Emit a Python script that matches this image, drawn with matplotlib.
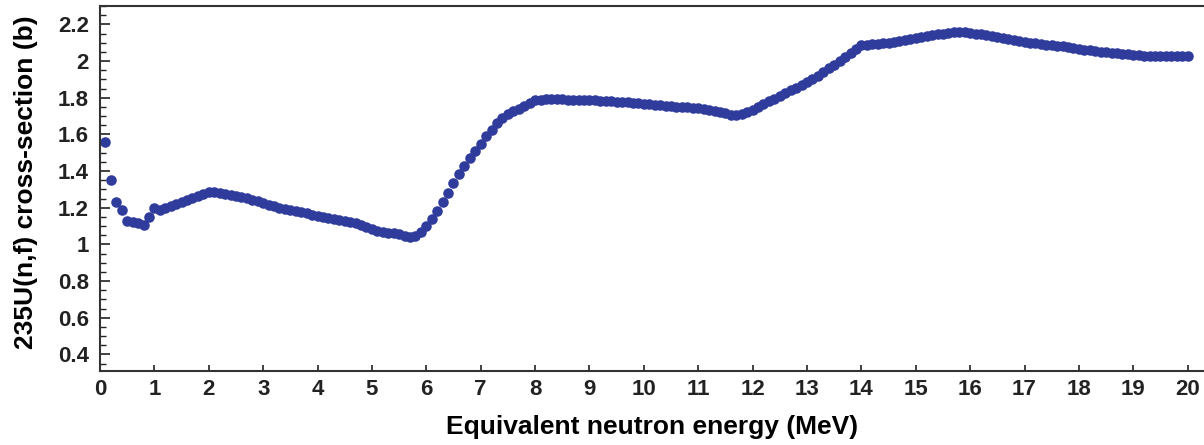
import numpy as np
import matplotlib.pyplot as plt
from matplotlib.ticker import MultipleLocator

# equivalent neutron energy (MeV), 0.1 MeV steps
energy = [round(0.1 * i, 1) for i in range(1, 201)]

# 235U(n,f) cross-section (b)
xs = [
    1.56, 1.35, 1.23, 1.19, 1.13, 1.12, 1.115, 1.105, 1.15, 1.20,
    1.19, 1.20, 1.21, 1.22, 1.23, 1.245, 1.255, 1.265, 1.275, 1.285,
    1.285, 1.28, 1.275, 1.27, 1.265, 1.26, 1.255, 1.245, 1.235, 1.225,
    1.215, 1.21, 1.20, 1.195, 1.19, 1.18, 1.175, 1.17, 1.16, 1.155,
    1.15, 1.145, 1.14, 1.135, 1.13, 1.125, 1.115, 1.105, 1.095, 1.085,
    1.075, 1.07, 1.065, 1.06, 1.055, 1.045, 1.04, 1.045, 1.07, 1.10,
    1.14, 1.18, 1.23, 1.28, 1.335, 1.385, 1.43, 1.47, 1.51, 1.55,
    1.59, 1.625, 1.66, 1.69, 1.71, 1.725, 1.74, 1.755, 1.77, 1.785,
    1.79, 1.795, 1.795, 1.795, 1.795, 1.79, 1.79, 1.79, 1.785, 1.785,
    1.785, 1.78, 1.78, 1.78, 1.775, 1.775, 1.775, 1.77, 1.77, 1.765,
    1.765, 1.76, 1.76, 1.755, 1.755, 1.75, 1.75, 1.75, 1.745, 1.745,
    1.74, 1.735, 1.73, 1.72, 1.715, 1.705, 1.705, 1.71, 1.72, 1.735,
    1.75, 1.765, 1.78, 1.795, 1.81, 1.825, 1.84, 1.855, 1.87, 1.885,
    1.90, 1.92, 1.94, 1.96, 1.98, 2.00, 2.02, 2.045, 2.065, 2.085,
    2.09, 2.095, 2.095, 2.10, 2.10, 2.105, 2.11, 2.115, 2.12, 2.125,
    2.13, 2.135, 2.14, 2.145, 2.15, 2.155, 2.16, 2.16, 2.16, 2.155,
    2.15, 2.145, 2.14, 2.135, 2.13, 2.125, 2.12, 2.115, 2.11, 2.105,
    2.10, 2.10, 2.095, 2.09, 2.085, 2.08, 2.08, 2.075, 2.07, 2.065,
    2.06, 2.06, 2.055, 2.05, 2.05, 2.045, 2.045, 2.04, 2.04, 2.035,
    2.035, 2.03, 2.03, 2.03, 2.03, 2.025, 2.025, 2.025, 2.025, 2.025,
]

plt.rcParams['font.family'] = ['Liberation Sans', 'DejaVu Sans']
plt.rcParams['font.weight'] = 'bold'

fig = plt.figure(figsize=(12.04, 4.45), dpi=100)
ax = fig.add_axes([100 / 1204, 1 - 371 / 445, 1 - 100 / 1204, (371 - 6) / 445])

ax.plot(energy, xs, 'o', color='#303c9c', markersize=7.6, markeredgewidth=0)

ax.set_xlim(0, 20.3)
ax.set_ylim(0.31, 2.30)
ax.xaxis.set_major_locator(MultipleLocator(1))
ax.yaxis.set_minor_locator(MultipleLocator(0.05))
ax.set_yticks(np.arange(0.4, 2.21, 0.2))
ax.set_yticklabels(['0.4', '0.6', '0.8', '1', '1.2', '1.4', '1.6', '1.8', '2', '2.2'])

ax.tick_params(axis='y', which='major', direction='in', length=7, width=1.2,
               labelsize=16, pad=8, colors='#222222')
ax.tick_params(axis='y', which='minor', direction='in', length=4, width=1.0, colors='#222222')
ax.tick_params(axis='x', which='major', direction='in', length=4, width=1.2,
               labelsize=16, pad=6, colors='#222222')
for lab in ax.get_xticklabels() + ax.get_yticklabels():
    lab.set_fontweight('bold')

ax.spines['right'].set_visible(False)
for s in ['left', 'bottom', 'top']:
    ax.spines[s].set_linewidth(1.5)
    ax.spines[s].set_color('#333333')

ax.set_xlabel('Equivalent neutron energy (MeV)', fontsize=19, fontweight='bold', va='center')
ax.set_ylabel('235U(n,f) cross-section (b)', fontsize=19, fontweight='bold', va='center')
ax.xaxis.set_label_coords(0.5, (371 - 427) / 365)
ax.yaxis.set_label_coords((26 - 100) / 1104, (371 - 182) / 365)

fig.savefig('out.png', dpi=100)
